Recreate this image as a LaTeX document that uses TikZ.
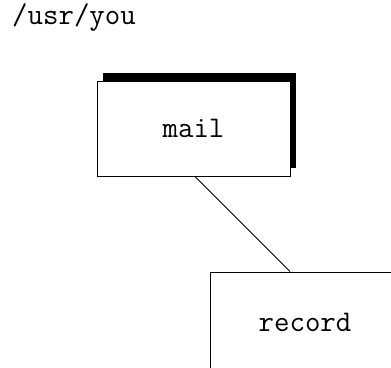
\documentclass[tikz,border=0pt]{standalone}
\usetikzlibrary{shadows}
\begin{document}
\begin{tikzpicture}[x=1pt,y=1pt,
  box/.style={draw=black, line width=0.9pt, fill=white, inner sep=0pt,
    font=\ttfamily\fontsize{30}{34}\selectfont},
  label/.style={font=\ttfamily\fontsize{30}{34}\selectfont, inner sep=0pt}]
\useasboundingbox (0,0) rectangle (391,367);
\clip (0,0) rectangle (391,367);
\node[label, anchor=base west] (path) at (12,342) {/usr/you};
\node[box, minimum width=193pt, minimum height=95pt,
  general shadow={fill=black, shadow xshift=6pt, shadow yshift=8pt}] (mail) at (193.5,238.5) {mail};
\node[box, minimum width=190pt, minimum height=100pt] (record) at (305,45) {record};
\draw[line width=0.9pt] ([xshift=1.5pt]mail.south) -- ([xshift=-15pt]record.north);
\end{tikzpicture}
\end{document}
